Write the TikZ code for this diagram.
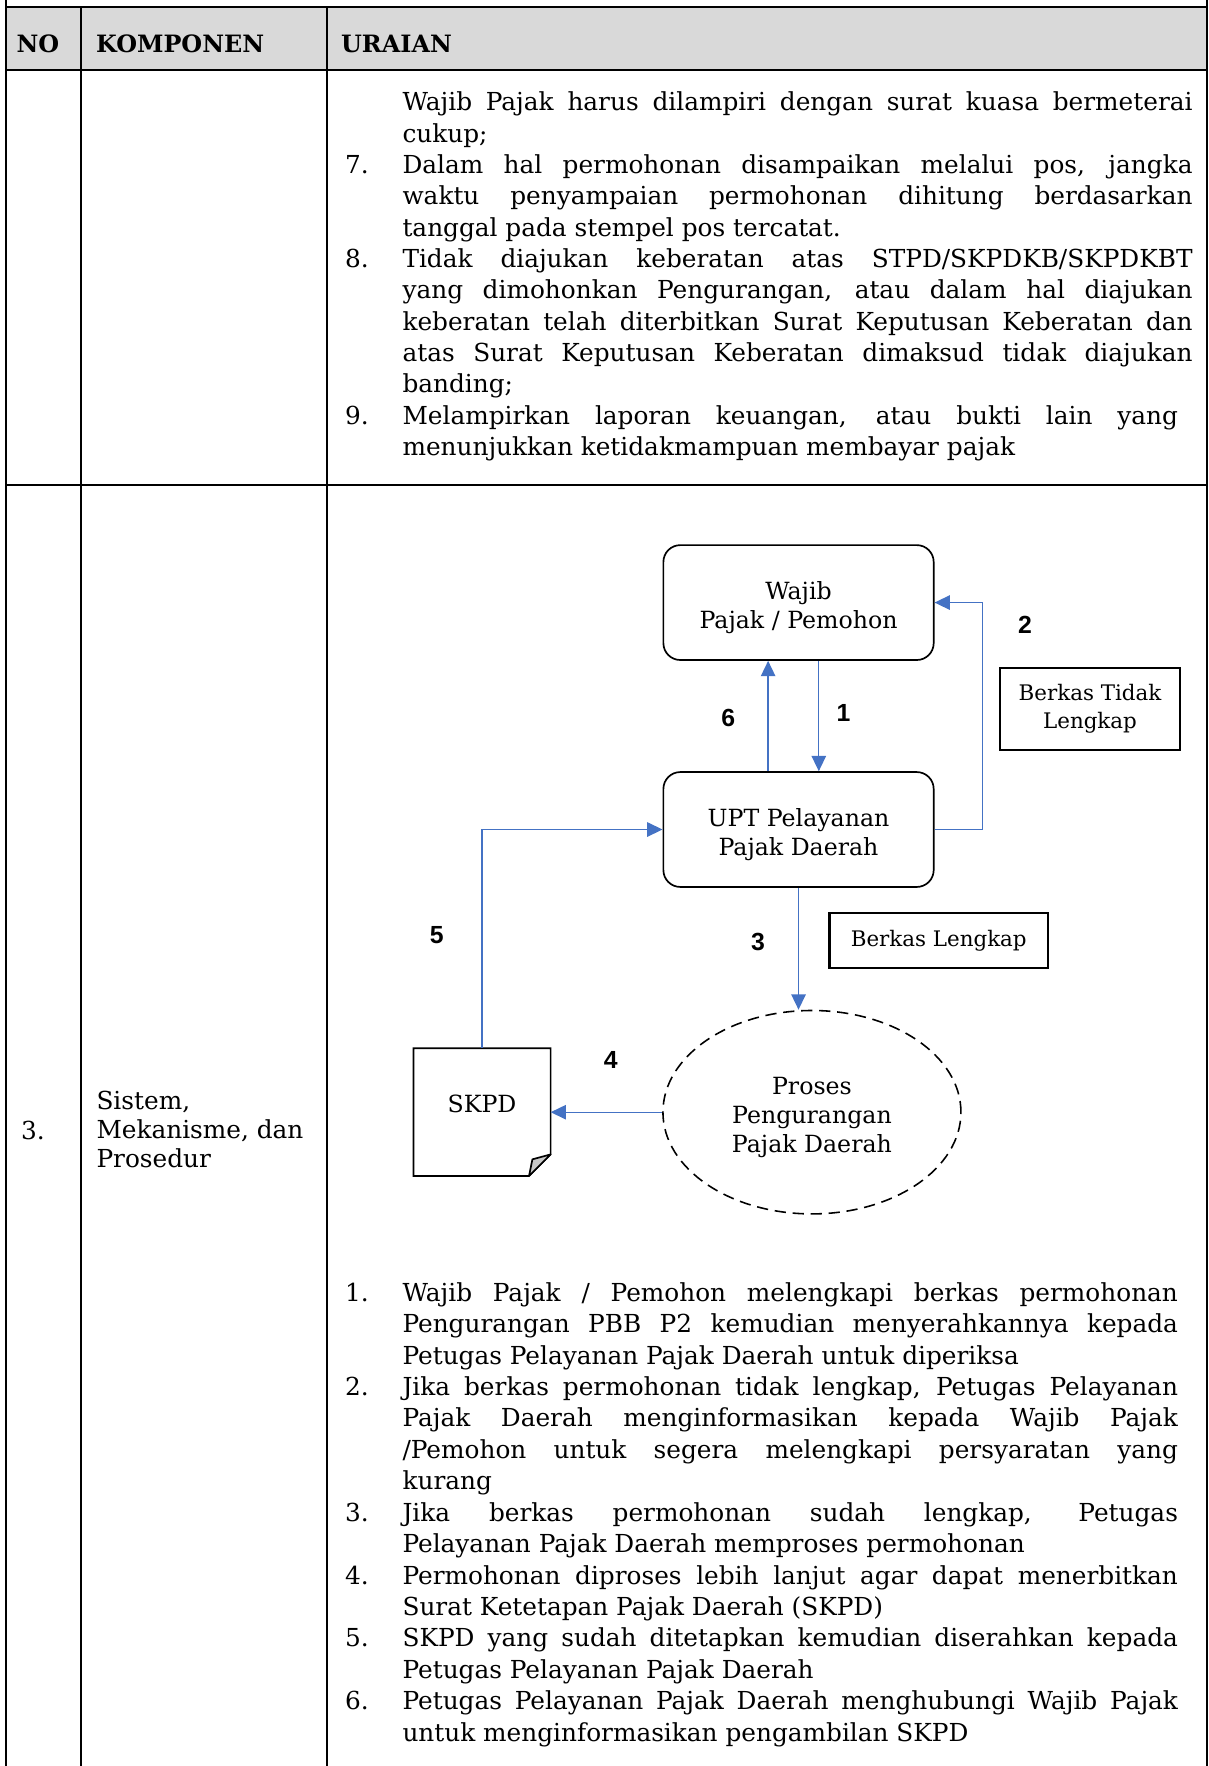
\documentclass[tikz,border=0pt]{standalone}
\usepackage{fontspec}
\setmainfont{DejaVu Serif}
\newfontfamily\labelfont{Liberation Sans}
\usetikzlibrary{arrows.meta,shapes.geometric,calc}

\definecolor{flowblue}{HTML}{4472C4}
\definecolor{headgray}{HTML}{D9D9D9}
\definecolor{foldgray}{HTML}{C8C8C8}

\newcommand\txtsize{\fontsize{11}{13.9}\selectfont}
\newcommand\headsize{\fontsize{10.6}{13}\selectfont}
\newcommand\diagsize{\fontsize{10.5}{12.75}\selectfont}
\newcommand\notesize{\fontsize{9.5}{12.5}\selectfont}
% extra room above the first line of a diagram label
\newcommand\topstrut{\rule{0pt}{12.4pt}}

% one justified line, one closing line, and an item number of a list
\newcommand\BodyLine[4]{\node[bodytext] (#1) at (357,#2) {\makebox[#3][s]{#4}};}
\newcommand\BodyEnd[3]{\node[bodytext] (#1) at (357,#2) {#3};}
\newcommand\BodyNum[3]{\node[bodytext] (#1) at (306,#2) {#3};}

\tikzset{
  gridline/.style={line width=0.9pt},
  bodytext/.style={anchor=base west, inner sep=0pt, font=\txtsize},
  headtext/.style={anchor=base west, inner sep=0pt, font=\headsize\bfseries},
  actor/.style={draw, line width=0.75pt, rounded corners=7.5pt,
    minimum width=120pt, minimum height=51pt, align=center,
    font=\diagsize, inner sep=0pt},
  note/.style={draw, line width=1pt, align=center, font=\notesize, inner sep=0pt},
  process/.style={ellipse, draw, dash pattern=on 5pt off 3pt, line width=0.7pt,
    minimum width=132.3pt, minimum height=90.3pt, align=center,
    font=\diagsize, inner sep=0pt},
  flowarrow/.style={flowblue, line width=0.6pt, -{Triangle[length=6.8pt,width=6.4pt]}},
  steplabel/.style={font=\labelfont\bfseries\fontsize{11}{13}\selectfont, inner sep=0pt},
}

\begin{document}
\begin{tikzpicture}[x=0.5pt,y=-0.5pt]
\useasboundingbox (0,0) rectangle (1073,1568);

% ---------- table frame ----------
\fill[headgray] (5,6.5) rectangle (1071.5,62);
\draw[gridline] (5,0) -- (5,1568);
\draw[gridline] (1071.5,0) -- (1071.5,1568);
\draw[gridline] (5,6.5) -- (1071.5,6.5);
\draw[gridline] (5,62) -- (1071.5,62);
\draw[gridline] (5,430.8) -- (1071.5,430.8);
\draw[gridline] (72,6.5) -- (72,1568);
\draw[gridline] (290.3,6.5) -- (290.3,1568);

% ---------- header ----------
\node[headtext] (hno) at (14.3,46.8) {NO};
\node[headtext] (hkomp) at (85,46.8) {KOMPONEN};
\node[headtext] (hura) at (302.5,46.8) {URAIAN};

% ---------- first row: requirements (continued) ----------
\BodyLine{ua}{98.5}{350.75pt}{Wajib Pajak harus dilampiri dengan surat kuasa bermeterai}
\BodyEnd{ub}{126.3}{cukup;}
\BodyNum{n7}{154.1}{7.}
\BodyLine{uc}{154.1}{350.75pt}{Dalam hal permohonan disampaikan melalui pos, jangka}
\BodyLine{ud}{181.9}{350.75pt}{waktu penyampaian permohonan dihitung berdasarkan}
\BodyEnd{ue}{209.7}{tanggal pada stempel pos tercatat.}
\BodyNum{n8}{237.5}{8.}
\BodyLine{uf}{237.5}{350.75pt}{Tidak diajukan keberatan atas STPD/SKPDKB/SKPDKBT}
\BodyLine{ug}{265.3}{350.75pt}{yang dimohonkan Pengurangan, atau dalam hal diajukan}
\BodyLine{uh}{293.1}{350.75pt}{keberatan telah diterbitkan Surat Keputusan Keberatan dan}
\BodyLine{ui}{320.9}{350.75pt}{atas Surat Keputusan Keberatan dimaksud tidak diajukan}
\BodyEnd{uj}{348.7}{banding;}
\BodyNum{n9}{376.5}{9.}
\BodyLine{uk}{376.5}{344.25pt}{Melampirkan laporan keuangan, atau bukti lain yang}
\BodyEnd{ul}{404.3}{menunjukkan ketidakmampuan membayar pajak}

% ---------- second row: component ----------
\node[bodytext] (rowno) at (18.4,1012) {3.};
\node[bodytext] (ka) at (85.3,985) {Sistem,};
\node[bodytext] (kb) at (85.3,1011) {Mekanisme, dan};
\node[bodytext] (kc) at (85.3,1037) {Prosedur};

% ---------- flow diagram ----------
\node[actor] (wajib) at (709,535) {\topstrut Wajib\\Pajak / Pemohon};
\node[actor] (upt) at (709,736.5) {\topstrut UPT Pelayanan\\Pajak Daerah};
\node[note, minimum width=80.1pt, minimum height=36.5pt] (tidak) at (967.8,629.5) {Berkas Tidak\\Lengkap};
\node[note, minimum width=97.1pt, minimum height=24.65pt] (lengkap) at (833.5,835) {Berkas Lengkap};
\node[process] (proses) at (720.9,987.5) {\topstrut Proses\\Pengurangan\\Pajak Daerah};
\node[inner sep=0pt, minimum width=60.5pt, minimum height=56.35pt, font=\diagsize,
  text height=7.65pt, text depth=7.4pt] (skpd) at (428,987.4) {SKPD};

% document outline with a folded corner
\draw[line width=0.75pt, line join=miter]
  (skpd.north west) -- (skpd.north east) -- ($(skpd.south east)+(0,-19.2)$)
  -- ($(skpd.south east)+(-19.2,0)$) -- (skpd.south west) -- cycle;
\filldraw[fill=foldgray, line width=0.75pt, line join=round]
  ($(skpd.south east)+(0,-19.2)$) -- ($(skpd.south east)+(-16.2,-14.8)$)
  -- ($(skpd.south east)+(-19.2,0)$) -- cycle;

% connectors
\draw[flowarrow] ([xshift=9pt]wajib.south) -- ([xshift=9pt]upt.north);
\draw[flowarrow] ([xshift=-13.5pt]upt.north) -- ([xshift=-13.5pt]wajib.south);
\draw[flowarrow] (upt.east) -- ++(42.5,0) |- (wajib.east);
\draw[flowarrow] (upt.south) -- (upt.south |- proses.north);
\draw[flowarrow] (proses.west) -- (proses.west -| skpd.east);
\draw[flowarrow] (skpd.north) |- (upt.west);

% step numbers
\node[steplabel] (s1) at (749,633) {1};
\node[steplabel] (s2) at (910,555) {2};
\node[steplabel] (s3) at (673,836.5) {3};
\node[steplabel] (s4) at (542.3,940.7) {4};
\node[steplabel] (s5) at (387.7,830.5) {5};
\node[steplabel] (s6) at (646.6,637.8) {6};

% ---------- second row: procedure steps ----------
\BodyNum{m1}{1155.3}{1.}
\BodyLine{wa}{1155.3}{344.25pt}{Wajib Pajak / Pemohon melengkapi berkas permohonan}
\BodyLine{wb}{1183.2}{344.25pt}{Pengurangan PBB P2 kemudian menyerahkannya kepada}
\BodyEnd{wc}{1211.1}{Petugas Pelayanan Pajak Daerah untuk diperiksa}
\BodyNum{m2}{1239.0}{2.}
\BodyLine{wd}{1239.0}{344.25pt}{Jika berkas permohonan tidak lengkap, Petugas Pelayanan}
\BodyLine{we}{1266.9}{344.25pt}{Pajak Daerah menginformasikan kepada Wajib Pajak}
\BodyLine{wf}{1294.8}{344.25pt}{/Pemohon untuk segera melengkapi persyaratan yang}
\BodyEnd{wg}{1322.7}{kurang}
\BodyNum{m3}{1350.6}{3.}
\BodyLine{wh}{1350.6}{344.25pt}{Jika berkas permohonan sudah lengkap, Petugas}
\BodyEnd{wi}{1378.5}{Pelayanan Pajak Daerah memproses permohonan}
\BodyNum{m4}{1406.4}{4.}
\BodyLine{wj}{1406.4}{344.25pt}{Permohonan diproses lebih lanjut agar dapat menerbitkan}
\BodyEnd{wk}{1434.3}{Surat Ketetapan Pajak Daerah (SKPD)}
\BodyNum{m5}{1462.2}{5.}
\BodyLine{wl}{1462.2}{344.25pt}{SKPD yang sudah ditetapkan kemudian diserahkan kepada}
\BodyEnd{wm}{1490.1}{Petugas Pelayanan Pajak Daerah}
\BodyNum{m6}{1518.0}{6.}
\BodyLine{wn}{1518.0}{344.25pt}{Petugas Pelayanan Pajak Daerah menghubungi Wajib Pajak}
\BodyEnd{wo}{1545.9}{untuk menginformasikan pengambilan SKPD}

\end{tikzpicture}
\end{document}
